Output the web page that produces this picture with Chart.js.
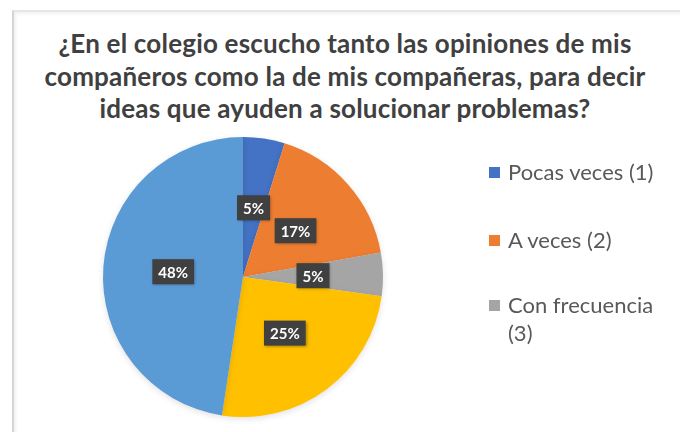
<!DOCTYPE html>
<html>
<head>
<meta charset="utf-8">
<script src="https://cdn.jsdelivr.net/npm/chart.js@4"></script>
<style>
  html, body { margin: 0; padding: 0; background: #fff; }
  #wrap { position: relative; width: 680px; height: 432px; overflow: hidden; background: #fff; }
  #frame {
    position: absolute; left: 12px; top: 10px; width: 700px; height: 440px;
    border-left: 2px solid #d4d4d4; border-top: 2px solid #e6e6e6;
    box-shadow: inset 2px 2px 3px rgba(0,0,0,0.06);
  }
  #chartBox { position: absolute; left: 0; top: 0; width: 680px; height: 432px; }
  #title {
    position: absolute; left: 12px; width: 666px; top: 27px;
    text-align: center; font-family: Lato, "Open Sans", sans-serif; font-weight: bold;
    font-size: 26px; letter-spacing: 0.2px; line-height: 32.5px; color: #404040;
  }
  #legend { position: absolute; left: 484px; top: 158px; font-family: Lato, "Open Sans", sans-serif; font-size: 22px; color: #595959; }
  .lg-item { position: relative; padding-left: 24px; width: 165px; line-height: 28px; }
  .lg-box { position: absolute; left: 5px; top: 9px; width: 11px; height: 11px; }
</style>
</head>
<body>
<div id="wrap">
  <div id="frame"></div>
  <div id="title"></div>
  <div id="chartBox"><canvas id="pie"></canvas></div>
  <div id="legend"></div>
</div>
<script>
const TITLE_LINES = [
  "¿En el colegio escucho tanto las opiniones de mis",
  "compañeros como la de mis compañeras, para decir",
  "ideas que ayuden a solucionar problemas?"
];
const CATEGORIES = ["Pocas veces (1)", "A veces (2)", "Con frecuencia (3)", "Casi siempre (4)", "Siempre (5)"];
// shares; labels show them rounded
const PERCENTS = [4.8, 17.4, 5.0, 25.2, 47.6];
const COLORS = ["#4472C4", "#ED7D31", "#A5A5A5", "#FFC000", "#5B9BD5"];
const LEGEND_SHOWN = 3; // only the first three entries fit in the visible legend

document.getElementById("title").innerHTML = TITLE_LINES.join("<br>");

const labelBoxes = {
  id: "labelBoxes",
  afterDatasetsDraw(chart) {
    const ctx = chart.ctx;
    const meta = chart.getDatasetMeta(0);
    ctx.save();
    ctx.font = "bold 15px Lato, 'Open Sans', sans-serif";
    ctx.textAlign = "center";
    ctx.textBaseline = "middle";
    meta.data.forEach((arc, i) => {
      const p = arc.tooltipPosition();
      const txt = Math.round(chart.data.datasets[0].data[i]) + "%";
      const w = ctx.measureText(txt).width + 12;
      const h = 25;
      ctx.shadowColor = "rgba(0,0,0,0.35)";
      ctx.shadowBlur = 3;
      ctx.shadowOffsetX = 1;
      ctx.shadowOffsetY = 1;
      ctx.fillStyle = "#404040";
      ctx.fillRect(p.x - w / 2, p.y - h / 2, w, h);
      ctx.shadowColor = "transparent";
      ctx.fillStyle = "#ffffff";
      ctx.fillText(txt, p.x, p.y + 1);
    });
    ctx.restore();
  }
};

const pieShadow = {
  id: "pieShadow",
  beforeDatasetsDraw(chart) {
    const ctx = chart.ctx;
    ctx.save();
    ctx.shadowColor = "rgba(0,0,0,0.12)";
    ctx.shadowBlur = 6;
    ctx.shadowOffsetY = 2;
  },
  afterDatasetsDraw(chart) {
    chart.ctx.restore();
  }
};

const chart = new Chart(document.getElementById("pie"), {
  type: "pie",
  data: {
    labels: CATEGORIES,
    datasets: [{
      data: PERCENTS,
      backgroundColor: COLORS,
      borderWidth: 0,
      hoverOffset: 0
    }]
  },
  options: {
    responsive: true,
    maintainAspectRatio: false,
    animation: false,
    layout: { padding: { left: 103, right: 297, top: 137, bottom: 15 } },
    plugins: {
      legend: { display: false },
      tooltip: { enabled: false },
      title: { display: false }
    }
  },
  plugins: [pieShadow, labelBoxes]
});

// html legend built from the chart's own legend items
const items = chart.options.plugins.legend.labels.generateLabels(chart).slice(0, LEGEND_SHOWN);
const tops = [0, 68, 133];
document.getElementById("legend").innerHTML = items.map((it, i) => `
  <div class="lg-item" style="position:absolute;top:${tops[i]}px;">
    <span class="lg-box" style="background:${it.fillStyle};"></span>${it.text}
  </div>`).join("");
</script>
</body>
</html>
